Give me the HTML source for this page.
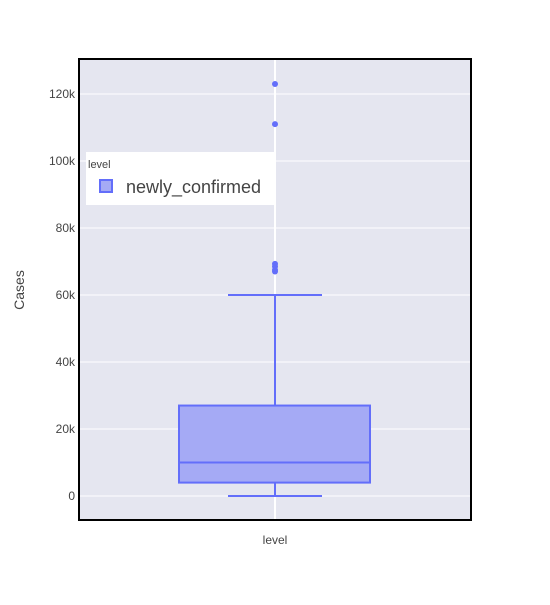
<!DOCTYPE html>
<html><head><meta charset="utf-8"><style>
body{margin:0;background:#fff;font-family:"Liberation Sans",sans-serif;}
</style></head><body>
<svg id="chart" width="550" height="600" xmlns="http://www.w3.org/2000/svg"></svg>
<script>
const yTicks=[0,20000,40000,60000,80000,100000,120000];
const yTickLabels=["0","20k","40k","60k","80k","100k","120k"];
const boxStats=[0,4000,10000,27000,60000]; // min,q1,median,q3,max
const outliers=[123000,111000,69300,68500,67500,67000];
const category=["level"];
const L=79,R=471,T=59,B=520;
function y(v){return 496-v*(496-94)/120000;}
const cx=275;
const svg=document.getElementById('chart');
const NS="http://www.w3.org/2000/svg";
function add(tag,attrs,parent){const e=document.createElementNS(NS,tag);for(const k in attrs)e.setAttribute(k,attrs[k]);(parent||svg).appendChild(e);return e;}
let bg=add('rect',{x:L,y:T,width:R-L,height:B-T,fill:'#e5e6f0'});


yTicks.forEach((t,i)=>{
 let g=add('line',{x1:L,x2:R,y1:y(t),y2:y(t),stroke:'#fff','stroke-width':1});
 
 
 let tx=add('text',{x:L-4,y:y(t)+4,'text-anchor':'end','font-size':12,fill:'#444'});
 tx.textContent=yTickLabels[i];
 
 
});
let vg=add('line',{x1:cx,x2:cx,y1:T,y2:B,stroke:'#fff','stroke-width':2});


const col='#636efa';
let wl=add('line',{x1:cx,x2:cx,y1:y(boxStats[0]),y2:y(boxStats[1]),stroke:col,'stroke-width':2});


let wu=add('line',{x1:cx,x2:cx,y1:y(boxStats[3]),y2:y(boxStats[4]),stroke:col,'stroke-width':2});


[boxStats[0],boxStats[4]].forEach(v=>{
 let c=add('line',{x1:228,x2:322,y1:y(v),y2:y(v),stroke:col,'stroke-width':2});
 
 
});
let box=add('rect',{x:179,y:y(boxStats[3]),width:191,height:y(boxStats[1])-y(boxStats[3]),fill:'#a5aaf5',stroke:col,'stroke-width':2});


let med=add('line',{x1:179,x2:370,y1:y(boxStats[2]),y2:y(boxStats[2]),stroke:col,'stroke-width':2});


outliers.forEach(v=>{
 let c=add('circle',{cx:cx,cy:y(v),r:3,fill:col});
 
 
});
let fr=add('rect',{x:L,y:T,width:R-L,height:B-T,fill:'none',stroke:'#000','stroke-width':2});


let xl=add('text',{x:cx,y:544,'text-anchor':'middle','font-size':12,fill:'#444'});
xl.textContent=category[0];


let yt=add('text',{x:24,y:290,'text-anchor':'middle','font-size':14,fill:'#444',transform:'rotate(-90 24 290)'});
yt.textContent='Cases';


let lg=add('g',{});


add('rect',{x:86,y:152,width:189,height:53,fill:'#fff'},lg);
let lt=add('text',{x:88,y:168,'font-size':11,fill:'#444'},lg);
lt.textContent='level';


let sw=add('rect',{x:100,y:180,width:12,height:12,fill:'#a5aaf5',stroke:col,'stroke-width':2},lg);


let le=add('text',{x:126,y:193,'font-size':18,fill:'#444'},lg);
le.textContent='newly_confirmed';


</script>
</body></html>
